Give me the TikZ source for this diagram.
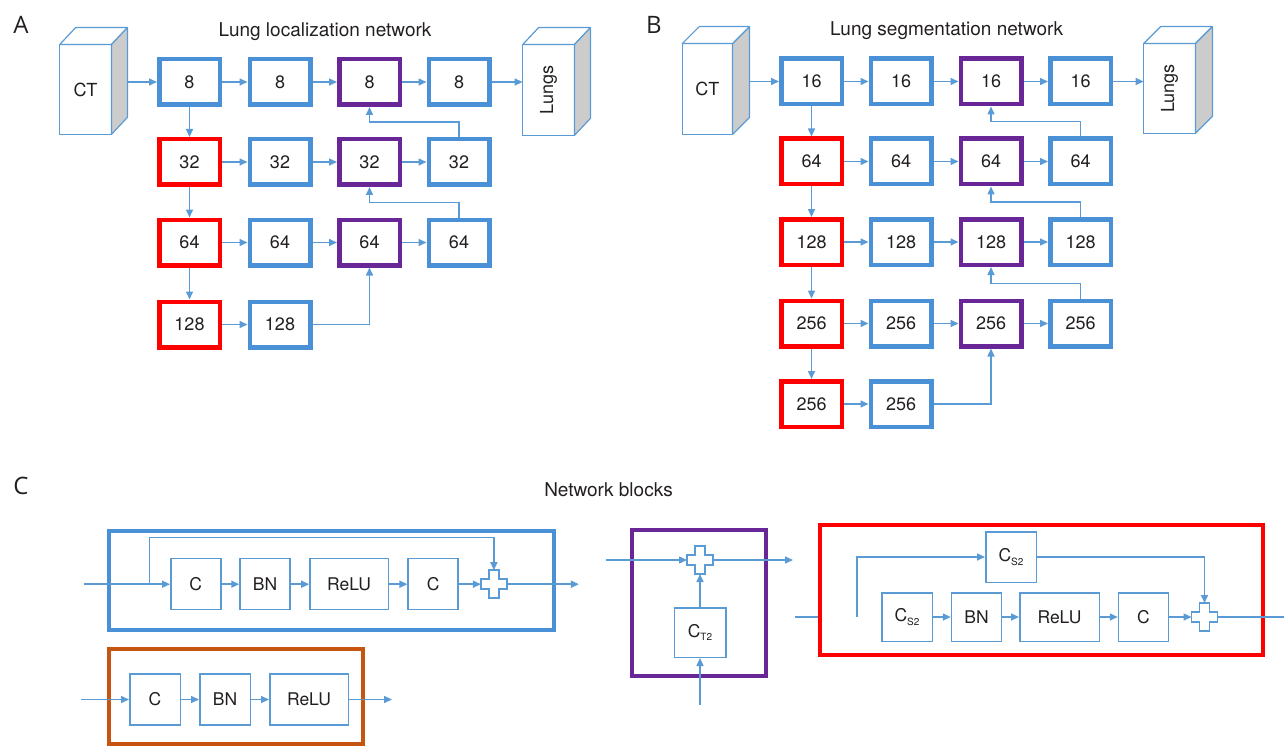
\documentclass[tikz,border=0pt]{standalone}
\usepackage{fontspec}
\usepackage{graphicx}
\setmainfont{TeX Gyre Heros}
\newfontfamily\letterfont{Open Sans}
\usetikzlibrary{arrows.meta,calc}

\definecolor{ink}{RGB}{35,31,32}
\definecolor{boxblue}{RGB}{74,144,214}
\definecolor{linkblue}{RGB}{91,155,213}
\definecolor{boxred}{RGB}{255,0,0}
\definecolor{boxpurple}{RGB}{104,38,150}
\definecolor{boxorange}{RGB}{197,85,17}
\definecolor{cubegray}{RGB}{204,204,204}

% small lowered index for C_S2 / C_T2
\newcommand\lowidx[1]{\raisebox{-3.5pt}{\fontsize{10}{10}\selectfont #1}}
% outlined plus sign centred on a node
\newcommand\crossat[1]{%
  \draw[wire, fill=white, shift={(#1.center)}]
    (-5,-14) -- (5,-14) -- (5,-5) -- (13,-5) -- (13,5) -- (5,5) -- (5,14)
    -- (-5,14) -- (-5,5) -- (-13,5) -- (-13,-5) -- (-5,-5) -- cycle;}

\begin{document}
\begin{tikzpicture}[x=1pt,y=-1pt,
  every node/.style={text=ink, font=\fontsize{18}{20}\selectfont},
  layer/.style={draw, line width=4.5pt, minimum width=60.5pt, minimum height=45.5pt, inner sep=0pt, fill=white},
  bluebox/.style={layer, draw=boxblue},
  redbox/.style={layer, draw=boxred},
  purplebox/.style={layer, draw=boxpurple},
  link/.style={draw=linkblue, line width=1.5pt, -{Triangle[length=8pt,width=7pt]}},
  wire/.style={draw=linkblue, line width=1.5pt},
  op/.style={draw=linkblue, line width=1.5pt, inner sep=0pt, minimum width=50pt, minimum height=51pt, fill=white, font=\fontsize{17.5}{19}\selectfont},
  plusnode/.style={inner sep=0pt, outer sep=0pt, minimum width=26pt, minimum height=28pt},
  cubefront/.style={draw=linkblue, line width=1.2pt, fill=white, inner sep=0pt, outer sep=0pt},
  cubeline/.style={draw=linkblue, line width=1.2pt, line join=round},
  frame/.style={line width=4pt},
  titletext/.style={font=\fontsize{19}{21}\selectfont},
  letter/.style={font=\letterfont\fontsize{24}{26}\selectfont}
]
\useasboundingbox (0,0) rectangle (1284,746);

% ---------- panel letters and titles ----------
\node[letter] (labA) at (21,25) {A};
\node[letter] (labB) at (654,25) {B};
\node[letter] (labC) at (21,486) {C};
\node[titletext] (titleA) at (325,32) {Lung localization network};
\node[titletext] (titleB) at (946.5,31) {Lung segmentation network};
\node[titletext] (titleC) at (608.5,490) {Network blocks};

% ---------- volumes ----------
\node[cubefront, minimum width=51.8pt, minimum height=89.8pt] (ctA) at (85.5,89.5) {CT};
\node[cubefront, minimum width=51.8pt, minimum height=90.8pt] (lungA) at (548.5,90) {\rotatebox{90}{Lungs}};
\node[cubefront, minimum width=50.3pt, minimum height=90.8pt] (ctB) at (707.4,89) {CT};
\node[cubefront, minimum width=51.8pt, minimum height=89.8pt] (lungB) at (1169.5,88.5) {\rotatebox{90}{Lungs}};
\foreach \c/\dx in {ctA/16,lungA/16,ctB/17,lungB/17}{
  \draw[cubeline, fill=white] (\c.north west) -- ++(\dx,-17) -- ($(\c.north east)+(\dx,-17)$) -- (\c.north east) -- cycle;
  \draw[cubeline, fill=cubegray] (\c.north east) -- ++(\dx,-17) -- ($(\c.south east)+(\dx,-17)$) -- (\c.south east) -- cycle;
}
\coordinate (ctAback) at ($(ctA.east)+(16,0)$);
\coordinate (ctBback) at ($(ctB.east)+(17,0)$);

% ---------- A: localization network ----------
\node[bluebox]   (a11) at (189.5,82) {8};
\node[bluebox]   (a21) at (280,82) {8};
\node[purplebox] (a31) at (369.5,82) {8};
\node[bluebox]   (a41) at (459,82) {8};
\node[redbox]    (a12) at (189.5,162) {32};
\node[bluebox]   (a22) at (280,162) {32};
\node[purplebox] (a32) at (369.5,162) {32};
\node[bluebox]   (a42) at (459,162) {32};
\node[redbox]    (a13) at (189.5,242.5) {64};
\node[bluebox]   (a23) at (280,242.5) {64};
\node[purplebox] (a33) at (369.5,242.5) {64};
\node[bluebox]   (a43) at (459,242.5) {64};
\node[redbox]    (a14) at (189.5,324.5) {128};
\node[bluebox]   (a24) at (280,324.5) {128};

\draw[link] (a11.west -| ctAback) -- (a11.west);
\draw[link] (a41.east) -- (a41.east -| lungA.west);
\foreach \r in {1,2,3}{
  \draw[link] (a1\r.east) -- (a2\r.west);
  \draw[link] (a2\r.east) -- (a3\r.west);
  \draw[link] (a3\r.east) -- (a4\r.west);
}
\draw[link] (a14.east) -- (a24.west);
\draw[link] (a11.south) -- (a12.north);
\draw[link] (a12.south) -- (a13.north);
\draw[link] (a13.south) -- (a14.north);
\draw[link] (a42.north) -- ++(0,-15) -| (a31.south);
\draw[link] (a43.north) -- ++(0,-15) -| (a32.south);
\draw[link] (a24.east) -| (a33.south);

% ---------- B: segmentation network ----------
\node[bluebox]   (b11) at (811.5,81.5) {16};
\node[bluebox]   (b21) at (901,81.5) {16};
\node[purplebox] (b31) at (991,81.5) {16};
\node[bluebox]   (b41) at (1080.5,81.5) {16};
\node[redbox]    (b12) at (811.5,161.5) {64};
\node[bluebox]   (b22) at (901,161.5) {64};
\node[purplebox] (b32) at (991,161.5) {64};
\node[bluebox]   (b42) at (1080.5,161.5) {64};
\node[redbox]    (b13) at (811.5,242) {128};
\node[bluebox]   (b23) at (901,242) {128};
\node[purplebox] (b33) at (991,242) {128};
\node[bluebox]   (b43) at (1080.5,242) {128};
\node[redbox]    (b14) at (811.5,323.5) {256};
\node[bluebox]   (b24) at (901,323.5) {256};
\node[purplebox] (b34) at (991,323.5) {256};
\node[bluebox]   (b44) at (1080.5,323.5) {256};
\node[redbox]    (b15) at (811.5,404) {256};
\node[bluebox]   (b25) at (901,404) {256};

\draw[link] (b11.west -| ctBback) -- (b11.west);
\draw[link] (b41.east) -- (b41.east -| lungB.west);
\foreach \r in {1,2,3,4}{
  \draw[link] (b1\r.east) -- (b2\r.west);
  \draw[link] (b2\r.east) -- (b3\r.west);
  \draw[link] (b3\r.east) -- (b4\r.west);
}
\draw[link] (b15.east) -- (b25.west);
\draw[link] (b11.south) -- (b12.north);
\draw[link] (b12.south) -- (b13.north);
\draw[link] (b13.south) -- (b14.north);
\draw[link] (b14.south) -- (b15.north);
\draw[link] (b42.north) -- ++(0,-15) -| (b31.south);
\draw[link] (b43.north) -- ++(0,-15) -| (b32.south);
\draw[link] (b44.north) -- ++(0,-15) -| (b33.south);
\draw[link] (b25.east) -| (b34.south);

% ---------- C: residual block ----------
\draw[frame, draw=boxblue] (109.3,530.5) rectangle (554.3,629.5);
\node[op] (resC1) at (195.8,584.2) {C};
\node[op] (resBN) at (265,584.2) {BN};
\node[op, minimum width=78.3pt] (resReLU) at (349.1,584.2) {ReLU};
\node[op] (resC2) at (433.2,584.2) {C};
\node[plusnode] (resPlus) at (493.9,584.2) {};
\coordinate (resIn) at (83.7,584.2);
\coordinate (resSplit) at (149.6,584.2);
\coordinate (resTop) at (149.6,537.6);
\coordinate (resOut) at (578.9,584.2);
\draw[link] (resIn) -- (resC1.west);
\draw[link] (resSplit) -- (resTop) -| (resPlus.north);
\draw[link] (resC1.east) -- (resBN.west);
\draw[link] (resBN.east) -- (resReLU.west);
\draw[link] (resReLU.east) -- (resC2.west);
\draw[link] (resC2.east) -- (resPlus.west);
\draw[link] (resPlus.east) -- (resOut);
\crossat{resPlus}

% ---------- C: conv / BN / ReLU block ----------
\draw[frame, draw=boxorange] (109,649) rectangle (363,744);
\node[op, minimum width=50.5pt] (cbrC) at (155,699.5) {C};
\node[op, minimum width=50.5pt] (cbrBN) at (225,699.5) {BN};
\node[op, minimum width=78.5pt] (cbrReLU) at (309,699.5) {ReLU};
\coordinate (cbrIn) at (81,699.5);
\coordinate (cbrOut) at (392,699.5);
\draw[link] (cbrIn) -- (cbrC.west);
\draw[link] (cbrC.east) -- (cbrBN.west);
\draw[link] (cbrBN.east) -- (cbrReLU.west);
\draw[link] (cbrReLU.east) -- (cbrOut);

% ---------- C: up-sampling block ----------
\draw[frame, draw=boxpurple] (632,530) rectangle (766,676);
\node[plusnode] (upPlus) at (700,560) {};
\node[op, minimum width=51.5pt, minimum height=49.5pt] (upConv) at (700,632.5) {C\lowidx{T2}};
\coordinate (upIn) at (606,560);
\coordinate (upOut) at (793,560);
\coordinate (upFeed) at (700,705);
\draw[link] (upIn) -- (upPlus.west);
\draw[link] (upPlus.east) -- (upOut);
\draw[link] (upConv.north) -- (upPlus.south);
\draw[link] (upFeed) -- (upConv.south);
\crossat{upPlus}

% ---------- C: down-sampling residual block ----------
\draw[frame, draw=boxred] (820,525) rectangle (1263,655);
\node[op, minimum width=50.5pt, minimum height=50.5pt] (dnSkip) at (1011,557) {C\lowidx{S2}};
\node[op, minimum width=50.5pt, minimum height=48.5pt] (dnC1) at (907,617) {C\lowidx{S2}};
\node[op, minimum width=50pt, minimum height=48.5pt] (dnBN) at (976.5,617) {BN};
\node[op, minimum width=79.5pt, minimum height=48.5pt] (dnReLU) at (1059.5,617) {ReLU};
\node[op, minimum width=50pt, minimum height=48.5pt] (dnC2) at (1143.5,617) {C};
\node[plusnode] (dnPlus) at (1204.5,617) {};
\coordinate (dnIn) at (795,617);
\coordinate (dnEdge) at (818,617);
\coordinate (dnSplit) at (857,617);
\coordinate (dnOut) at (1292,617);
\draw[wire] (dnIn) -- (dnEdge);
\draw[link] (dnSplit) |- (dnSkip.west);
\draw[link] (dnSkip.east) -| (dnPlus.north);
\draw[link] (dnC1.east) -- (dnBN.west);
\draw[link] (dnBN.east) -- (dnReLU.west);
\draw[link] (dnReLU.east) -- (dnC2.west);
\draw[link] (dnC2.east) -- (dnPlus.west);
\draw[link] (dnPlus.east) -- (dnOut);
\crossat{dnPlus}
\end{tikzpicture}
\end{document}
